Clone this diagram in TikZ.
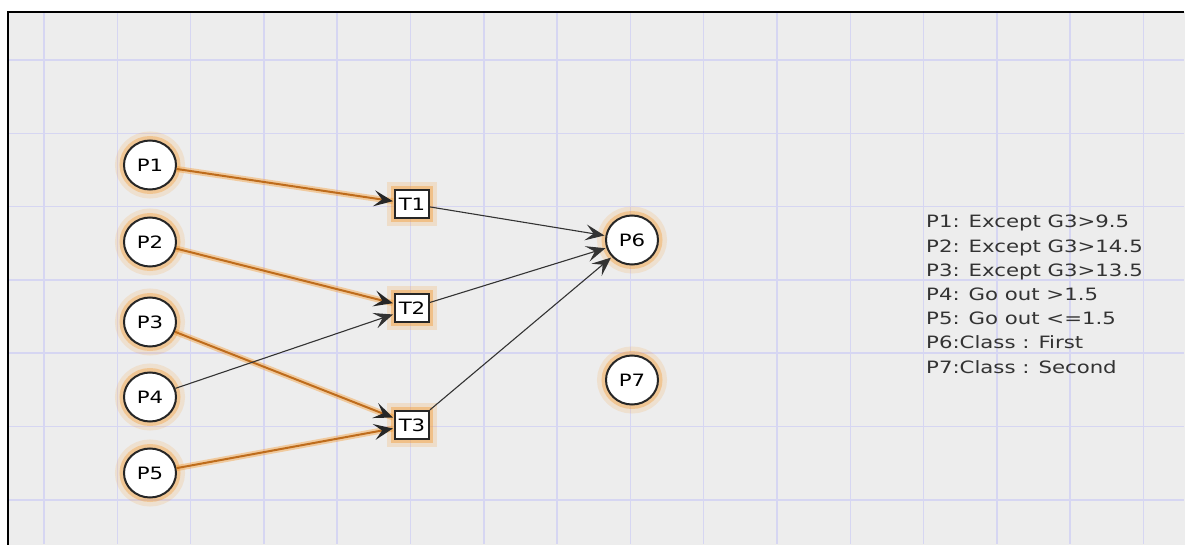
\documentclass[tikz,border=0pt]{standalone}
\usepackage{fontspec}
\setmainfont{DejaVu Sans}
\newfontfamily\netfont[FakeStretch=1.25]{DejaVu Sans}
\usepackage{tikz}
\usetikzlibrary{arrows.meta,shapes.geometric}
\definecolor{gridblue}{RGB}{214,214,242}
\definecolor{canvas}{RGB}{237,237,237}
\definecolor{firing}{RGB}{190,108,28}
\definecolor{glow}{RGB}{245,150,40}

\begin{document}
\begin{tikzpicture}[->,>={Stealth[length=19pt,width=16pt,inset=8pt]},shorten >=1pt,
        x=1pt,y=-1pt,node distance=77pt,
        font=\netfont\fontsize{17}{24.2}\selectfont,
        place/.style={ellipse,draw=black!85,line width=2pt,fill=white,
          minimum width=52pt,minimum height=49pt,inner sep=0pt,
          preaction={draw=glow,draw opacity=.15,line width=18pt,-},
          preaction={draw=glow,draw opacity=.35,line width=9pt,-}},
        transition/.style={rectangle,draw=black!85,line width=2.2pt,fill=white,
          minimum width=34pt,minimum height=28pt,inner sep=0pt,
          preaction={draw=glow,draw opacity=.18,line width=16pt,-},
          preaction={draw=glow,draw opacity=.4,line width=8pt,-}},
        hot/.style={draw=firing,line width=2pt,
          -{Stealth[black!85,length=19pt,width=16pt,inset=8pt]},
          preaction={draw=glow,draw opacity=.4,line width=6pt,-}},
        cold/.style={draw=black!80,line width=1.1pt}]

  % canvas and grid
  \useasboundingbox (0,0) rectangle (1185,545);
  \begin{scope}[-]
    \fill[canvas] (8,12) rectangle (1185,545);
    \begin{scope}
      \clip (8,12) rectangle (1185,545);
      \foreach \gx in {0,...,15}
        \draw[gridblue,line width=1.5pt] (44+73.3*\gx,12) -- (44+73.3*\gx,545);
      \foreach \gy in {0,...,6}
        \draw[gridblue,line width=1.5pt] (8,60+73.3*\gy) -- (1185,60+73.3*\gy);
    \end{scope}
    \draw[black,line width=1.6pt] (8,545) -- (8,12) -- (1185,12);
  \end{scope}

  \node[place] (P1) at (150,165) {P1};
  \node[place] (P2) [below of=P1] {P2};
  \node[place] (P3) [below of=P2, node distance=80pt] {P3};
  \node[place] (P4) [below of=P3, node distance=75pt] {P4};
  \node[place] (P5) [below of=P4, node distance=76pt] {P5};

  \node[transition] (T1) at (412,204) {T1};
  \node[transition] (T2) at (412,308) {T2};
  \node[transition] (T3) at (412,425) {T3};

  \node[place] (P6) at (632,240) {P6};
  \node[place] (P7) at (632,380) {P7};

  \node[align=left,anchor=north west,inner sep=0pt,text=black!80] (legend)
    at (926,215) {P1: Except G3>9.5\\P2: Except G3>14.5\\P3: Except G3>13.5\\
    P4: Go out >1.5\\P5: Go out <=1.5\\P6:Class : First\\P7:Class : Second};

  \path (P1) edge [hot]  (T1)
        (P2) edge [hot]  (T2)
        (P3) edge [hot]  (T3)
        (P4) edge [cold] (T2)
        (P5) edge [hot]  (T3)
        (T1) edge [cold] (P6)
        (T2) edge [cold] (P6)
        (T3) edge [cold] (P6);

\end{tikzpicture}
\end{document}
